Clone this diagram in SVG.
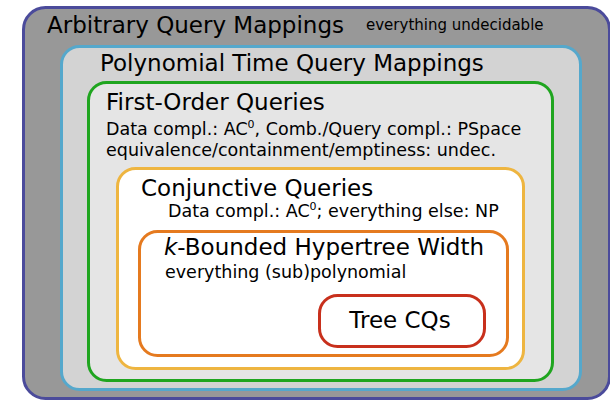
<svg xmlns="http://www.w3.org/2000/svg" width="610" height="401" viewBox="0 0 610 401">
<style>
text{font-family:"DejaVu Sans","Liberation Sans",sans-serif;fill:#000}
.t{font-size:23px}
.s{font-size:17.5px}
.u{font-size:15px}
.sup{font-size:11px}
.box{stroke-width:3}
</style>
<rect width="610" height="401" fill="#ffffff"/>
<g id="arbitrary">
<rect class="box" x="23.5" y="7.5" width="586" height="391" rx="22" fill="#989898" stroke="#4b4b9b"/>
<text class="t" x="47" y="33">Arbitrary Query Mappings</text>
<text class="u" x="366" y="30">everything undecidable</text>
</g>
<g id="polynomial">
<rect class="box" x="61.5" y="46.5" width="519" height="343" rx="18" fill="#d3d3d3" stroke="#55a8cc"/>
<text class="t" x="100" y="71">Polynomial Time Query Mappings</text>
</g>
<g id="firstorder">
<rect class="box" x="88.5" y="82.5" width="464" height="298" rx="18" fill="#e5e5e5" stroke="#1fa51f"/>
<text class="t" x="106" y="110">First-Order Queries</text>
<text class="s" x="106" y="135">Data compl.: AC<tspan class="sup" dy="-7">0</tspan><tspan dy="7">, Comb./Query compl.: PSpace</tspan></text>
<text class="s" x="106" y="156">equivalence/containment/emptiness: undec.</text>
</g>
<g id="conjunctive">
<rect class="box" x="117.5" y="168.5" width="406" height="200" rx="18" fill="#ffffff" stroke="#eeb540"/>
<text class="t" x="141" y="196">Conjunctive Queries</text>
<text class="s" x="168" y="217">Data compl.: AC<tspan class="sup" dy="-7">0</tspan><tspan dy="7">; everything else: NP</tspan></text>
</g>
<g id="hypertree">
<rect class="box" x="139.5" y="231.5" width="368" height="124" rx="18" fill="#ffffff" stroke="#e57a1f"/>
<text class="t" x="164" y="255"><tspan font-style="italic">k</tspan>-Bounded Hypertree Width</text>
<text class="s" x="165" y="278">everything (sub)polynomial</text>
</g>
<g id="tree">
<rect class="box" x="319.5" y="295.5" width="165" height="51" rx="18" fill="#ffffff" stroke="#c8301c"/>
<text class="t" x="400" y="328" text-anchor="middle">Tree CQs</text>
</g>
<g id="connectors"></g>
</svg>
